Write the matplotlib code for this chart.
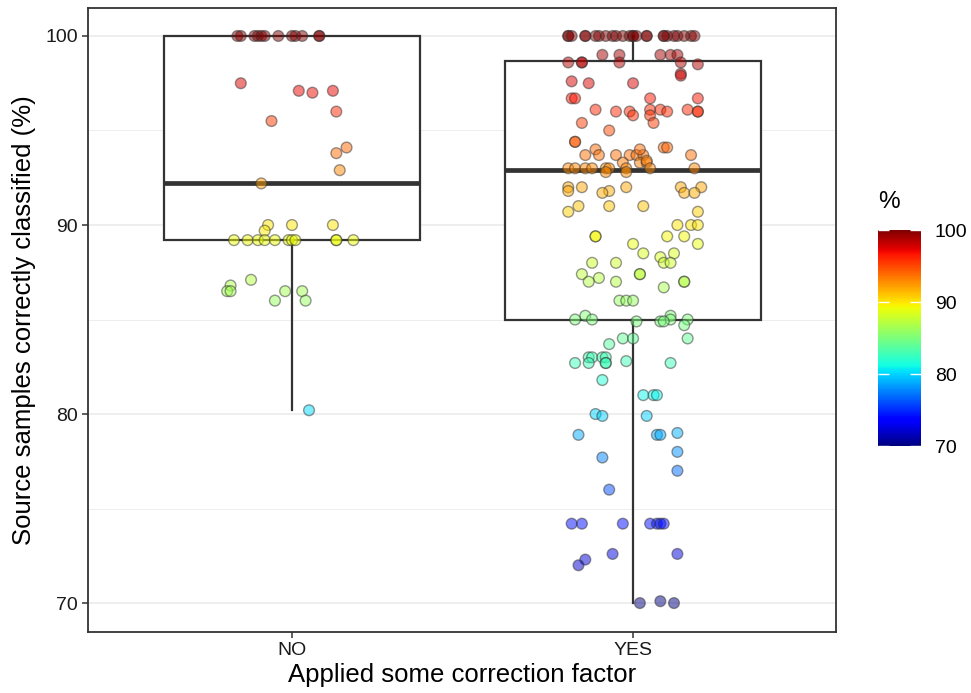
import numpy as np
import matplotlib
matplotlib.use('Agg')
import matplotlib.pyplot as plt
from matplotlib.colors import Normalize
from matplotlib.cm import ScalarMappable

plt.rcParams['font.family'] = ['Liberation Sans', 'DejaVu Sans']

# Categories and box statistics
groups = ['NO', 'YES']
box_q1 = [89.2, 85.0]
box_med = [92.2, 92.9]
box_q3 = [100.0, 98.65]
whisk_lo = [80.2, 70.0]
whisk_hi = [100.0, 100.0]

# Jittered points, NO group: percentage and horizontal jitter
no_pct = [100, 100, 100, 100, 100, 100, 100, 100, 100, 100, 100, 100,
          97.5, 97.1, 97.0, 97.1, 96.0, 95.5, 94.1, 93.8, 92.9, 92.2,
          90.0, 90.0, 90.0, 89.7,
          89.2, 89.2, 89.2, 89.2, 89.2, 89.2, 89.2, 89.2, 89.2, 89.2, 89.2,
          86.8, 86.5, 86.5, 87.1, 86.5, 86.5, 86.0, 86.0, 80.2]
no_jit = [-0.16, -0.15, -0.11, -0.10, -0.09, -0.08, -0.04, 0.00, 0.01, 0.03, 0.08, 0.08,
          -0.15, 0.02, 0.06, 0.12, 0.13, -0.06, 0.16, 0.13, 0.14, -0.09,
          -0.07, 0.00, 0.12, -0.08,
          -0.17, -0.13, -0.10, -0.08, -0.05, -0.01, 0.00, 0.01, 0.13, 0.13, 0.18,
          -0.18, -0.19, -0.18, -0.12, -0.02, 0.03, -0.05, 0.04, 0.05]

# YES group
yes_pct = [100, 100, 100, 100, 100, 100, 100, 100, 100, 100, 100, 100, 100,
           100, 100, 100, 100, 100, 100, 100, 100, 100, 100, 100, 100,
           99.0, 99.0, 99.0, 99.0, 99.0,
           98.6, 98.6, 98.6, 98.6, 98.6, 98.5, 98.0, 97.9,
           97.6, 97.5, 97.5,
           96.7, 96.7, 96.7, 96.7,
           96.1, 96.1, 96.1, 96.1,
           96.0, 96.0, 96.0, 96.0, 96.0,
           95.8, 95.8, 95.4, 95.4, 95.0,
           94.4, 94.4, 94.0, 94.1, 94.1,
           93.7, 93.7, 93.7, 93.7, 93.7, 93.7, 93.7, 94.0,
           93.3, 93.3, 93.3, 93.4,
           93.0, 93.0, 93.0, 93.0, 93.0, 93.0, 93.0, 93.0, 93.0,
           92.8, 92.8,
           92.0, 92.0, 92.0, 92.0, 92.0,
           91.8, 91.8, 91.7, 91.7, 91.7,
           91.0, 91.0, 91.0, 90.7, 90.7,
           90.0, 90.0, 90.0,
           89.4, 89.4, 89.4, 89.4,
           89.0, 89.0, 88.5, 88.5, 88.3,
           88.0, 88.0, 88.0, 88.0,
           87.4, 87.4, 87.4, 87.2,
           87.0, 87.0, 87.0, 87.0, 86.7,
           86.0, 86.0, 86.0,
           85.2, 85.2, 85.0, 85.0, 85.0, 85.0,
           84.9, 84.9, 84.9, 84.7,
           84.0, 84.0, 84.0, 83.7,
           83.0, 83.0, 83.0, 83.0,
           82.7, 82.7, 82.7, 82.7, 82.7, 82.8,
           81.8, 81.0, 81.0, 81.0,
           80.0, 79.9, 79.9,
           78.9, 78.9, 78.9, 79.0, 78.0, 77.7, 77.0, 76.0,
           74.2, 74.2, 74.2, 74.2, 74.2, 74.2, 74.2,
           72.6, 72.6, 72.3, 72.0,
           70.0, 70.0, 70.1]
yes_jit = [-0.19, -0.19, -0.18, -0.14, -0.14, -0.11, -0.10, -0.08, -0.06, -0.05, -0.03, -0.01, 0.00,
           0.00, 0.01, 0.04, 0.04, 0.09, 0.09, 0.10, 0.12, 0.13, 0.15, 0.17, 0.18,
           -0.09, -0.04, 0.08, 0.11, 0.13,
           -0.19, -0.15, -0.15, -0.04, 0.14, 0.19, 0.14, 0.14,
           -0.18, -0.13, 0.00,
           -0.18, -0.17, 0.05, 0.19,
           -0.11, 0.05, 0.08, 0.16,
           -0.05, -0.01, 0.10, 0.19, 0.19,
           0.00, 0.05, 0.06, -0.15, -0.07,
           -0.17, -0.17, -0.11, 0.09, 0.10,
           -0.14, 0.17, -0.10, -0.05, -0.01, 0.01, 0.03, 0.02,
           -0.03, 0.02, 0.04, 0.04,
           -0.19, -0.17, -0.14, -0.12, -0.08, -0.07, -0.02, 0.05, 0.18,
           -0.08, -0.02,
           -0.19, -0.15, -0.02, 0.14, 0.20,
           -0.19, -0.07, -0.09, 0.15, 0.18,
           -0.16, -0.07, 0.03, -0.19, 0.19,
           0.13, 0.17, 0.19,
           -0.11, -0.11, 0.10, 0.15,
           0.00, 0.19, 0.03, 0.12, 0.08,
           0.09, 0.11, -0.12, -0.05,
           0.02, 0.02, -0.15, -0.10,
           -0.13, -0.05, 0.15, 0.15, 0.09,
           -0.04, -0.02, 0.00,
           -0.14, 0.11, -0.17, -0.12, 0.11, 0.16,
           0.01, 0.08, 0.09, 0.15,
           -0.03, 0.00, 0.16, -0.07,
           -0.13, -0.12, -0.09, -0.08,
           -0.17, -0.13, -0.08, -0.08, 0.11, -0.02,
           -0.09, 0.03, 0.06, 0.07,
           -0.11, -0.09, 0.04,
           -0.16, 0.07, 0.08, 0.13, 0.13, -0.09, 0.13, -0.07,
           -0.18, -0.15, -0.03, 0.05, 0.07, 0.08, 0.09,
           -0.06, 0.13, -0.14, -0.16,
           0.02, 0.12, 0.08]

fig = plt.figure(figsize=(9.71, 6.93), dpi=100)
ax = fig.add_axes([88 / 971, 1 - 632 / 693, (836 - 88) / 971, (632 - 8) / 693])

line_col = '#333333'
stats = []
for i in range(len(groups)):
    stats.append({'q1': box_q1[i], 'med': box_med[i], 'q3': box_q3[i],
                  'whislo': whisk_lo[i], 'whishi': whisk_hi[i], 'fliers': []})
ax.bxp(stats, positions=[1, 2], widths=0.75, showcaps=False, showfliers=False,
       patch_artist=True,
       boxprops=dict(facecolor='white', edgecolor=line_col, linewidth=1.6),
       whiskerprops=dict(color=line_col, linewidth=1.6),
       medianprops=dict(color=line_col, linewidth=3.4, solid_capstyle='butt'),
       zorder=2)

cmap = plt.get_cmap('jet')
norm = Normalize(vmin=70, vmax=100)
xs = np.concatenate([1 + np.array(no_jit), 2 + np.array(yes_jit)])
ys = np.concatenate([np.array(no_pct, dtype=float), np.array(yes_pct, dtype=float)])
cols = cmap(norm(ys))
cols[:, 3] = 0.5
edge = np.tile([0.2, 0.2, 0.2, 0.5], (len(ys), 1))
ax.scatter(xs, ys, s=60, c=cols, edgecolors=edge, linewidths=1.0, zorder=3)

ax.set_xlim(0.402, 2.595)
ax.set_ylim(68.47, 101.48)
ax.set_xticks([1, 2])
ax.set_xticklabels(groups)
ax.set_yticks([70, 80, 90, 100])
ax.set_yticks([75, 85, 95], minor=True)
ax.grid(axis='y', which='major', color='#EBEBEB', linewidth=1.2, zorder=0)
ax.grid(axis='y', which='minor', color='#EBEBEB', linewidth=0.6, zorder=0)
ax.set_axisbelow(True)
ax.tick_params(axis='both', which='major', length=4.2, width=1.1, color=line_col,
               labelsize=14, labelcolor='#1a1a1a', pad=3)
ax.tick_params(axis='y', which='minor', length=0)
for sp in ax.spines.values():
    sp.set_color(line_col)
    sp.set_linewidth(1.3)
ax.set_xlabel('Applied some correction factor', fontsize=18.5, labelpad=3)
ax.set_ylabel('Source samples correctly classified (%)', fontsize=18.5, labelpad=7)

# colour bar legend
cax = fig.add_axes([878 / 971, 1 - 446 / 693, 43 / 971, 216 / 693])
cb = fig.colorbar(ScalarMappable(norm=norm, cmap=cmap), cax=cax)
cb.outline.set_visible(False)
cb.set_ticks([70, 80, 90, 100])
cax.tick_params(axis='y', left=True, right=True, labelleft=False, labelright=True,
                direction='in', color='white', length=8, width=1.0, labelsize=14, pad=10)
cax.set_title('%', fontsize=17.5, loc='left', pad=16)

fig.savefig('out.png', dpi=100)
